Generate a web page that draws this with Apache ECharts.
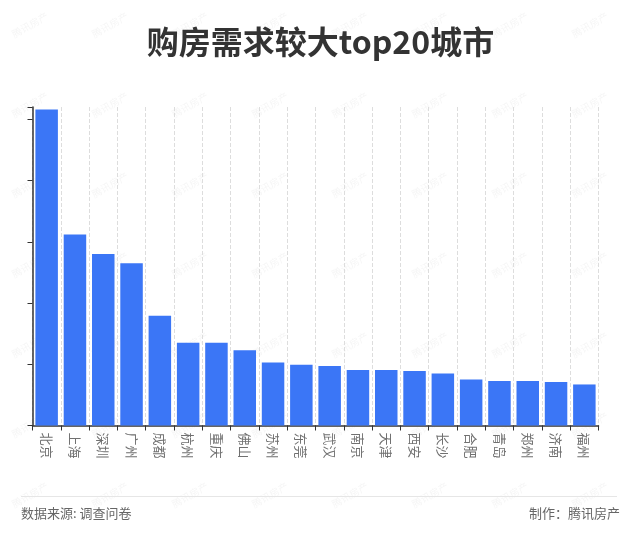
<!DOCTYPE html>
<html>
<head>
<meta charset="utf-8">
<style>
html, body { margin: 0; padding: 0; background: #fff; }
#container { width: 641px; height: 534px; }
</style>
<script src="https://cdn.jsdelivr.net/npm/echarts@6/dist/echarts.min.js"></script>
</head>
<body>
<div id="container"></div>
<script>
var fontName = '"Noto Sans CJK SC", sans-serif';

var cities = ['北京', '上海', '深圳', '广州', '成都', '杭州', '重庆', '佛山', '苏州', '东莞',
    '武汉', '南京', '天津', '西安', '长沙', '合肥', '青岛', '郑州', '济南', '福州'];
var values = [516, 312, 280, 265, 179, 135, 135, 123, 103, 99,
    97, 90.5, 90.5, 89, 85, 75, 72.5, 72.5, 71, 67];

// faint watermark repeated over the picture
var graphics = [];
var rows = [25, 105, 185, 265, 345, 425, 495];
var cols = [30, 110, 190, 270, 350, 430, 510, 590];
for (let r = 0; r < rows.length; r++) {
    for (let c = 0; c < cols.length; c++) {
        graphics.push({
            type: 'text',
            x: cols[c],
            y: rows[r],
            rotation: Math.PI / 6,
            z: 0,
            style: {
                text: '腾讯房产',
                font: '10px ' + fontName,
                fill: 'rgba(120,120,120,0.07)',
                textAlign: 'center',
                textVerticalAlign: 'middle'
            }
        });
    }
}

graphics.push({
    type: 'line',
    shape: { x1: 21, y1: 496.5, x2: 617, y2: 496.5 },
    style: { stroke: '#e6e6e6', lineWidth: 1 }
});
graphics.push({
    type: 'text',
    x: 21,
    y: 513.5,
    style: {
        text: '数据来源: 调查问卷',
        font: '13px ' + fontName,
        fill: '#666',
        textVerticalAlign: 'middle'
    }
});
graphics.push({
    type: 'text',
    x: 620,
    y: 513.5,
    style: {
        text: '制作：腾讯房产',
        font: '13px ' + fontName,
        fill: '#666',
        textAlign: 'right',
        textVerticalAlign: 'middle'
    }
});

var myChart = echarts.init(document.getElementById('container'));
var option = {
    backgroundColor: '#fff',
    animation: false,
    title: {
        text: '购房需求较大top20城市',
        left: 'center',
        top: 21,
        textStyle: {
            color: '#333',
            fontFamily: fontName,
            fontWeight: 'bold',
            fontSize: 32
        }
    },
    grid: { left: 32.5, right: 42.5, top: 107, bottom: 108.5 },
    xAxis: {
        type: 'category',
        data: cities,
        axisLine: { lineStyle: { color: '#333', width: 1.5 } },
        axisTick: { show: true, length: 5, lineStyle: { color: '#333' } },
        axisLabel: {
            rotate: -90,
            interval: 0,
            color: '#707070',
            fontSize: 13,
            margin: 7,
            fontFamily: fontName
        },
        splitLine: {
            show: true,
            interval: 0,
            lineStyle: { color: '#ddd', type: 'dashed' }
        }
    },
    yAxis: {
        type: 'value',
        min: 0,
        max: 520,
        interval: 100,
        axisLine: { show: true, lineStyle: { color: '#333', width: 1.5 } },
        axisTick: { show: true, length: 5, lineStyle: { color: '#333' } },
        axisLabel: { show: false },
        splitLine: { show: false }
    },
    series: [{
        type: 'bar',
        data: values,
        barWidth: 22.5,
        itemStyle: { color: '#3b76f6' }
    }],
    graphic: graphics
};
myChart.setOption(option);
</script>
</body>
</html>
